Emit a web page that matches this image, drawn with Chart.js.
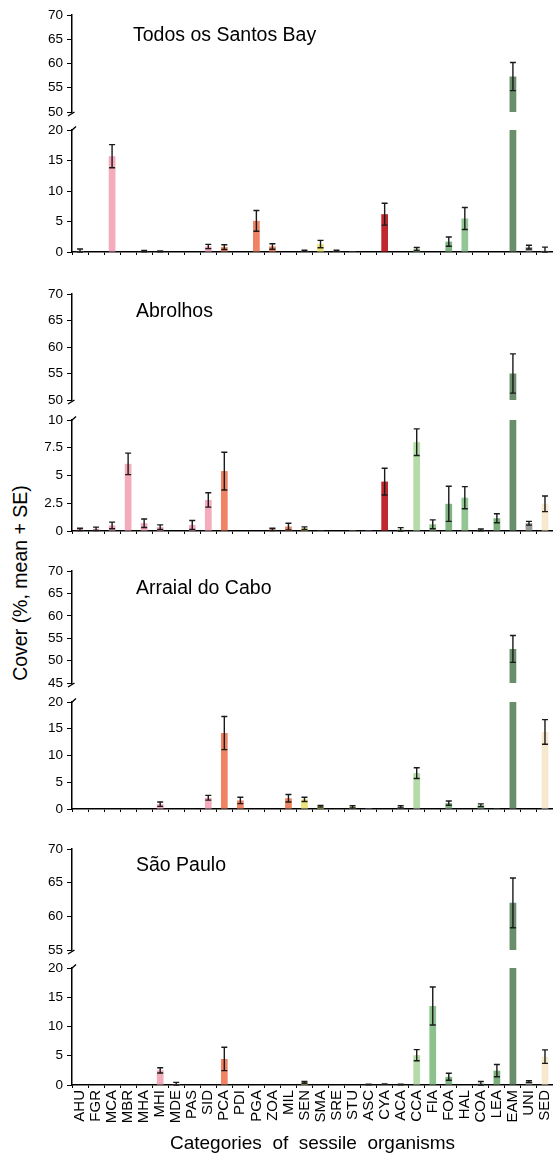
<!DOCTYPE html>
<html><head><meta charset="utf-8">
<script src="https://cdn.jsdelivr.net/npm/chart.js@4/dist/chart.umd.min.js"></script>
<style>
html,body{margin:0;padding:0;background:#fff;width:553px;height:1155px;overflow:hidden;position:relative;}
canvas{position:absolute;left:0;}
#ytitle{position:absolute;left:20px;top:583px;transform:translate(-50%,-50%) rotate(-90deg);font:19.5px 'Liberation Sans',Arial,sans-serif;white-space:nowrap;color:#000;}
</style></head><body>
<div id="ytitle">Cover (%, mean + SE)</div>
<script>
// ---------- data ----------
const categories = ['AHU','FGR','MCA','MBR','MHA','MHI','MDE','PAS','SID','PCA','PDI','PGA','ZOA','MIL','SEN','SMA','SRE','STU','ASC','CYA','ACA','CCA','FIA','FOA','HAL','COA','LEA','EAM','UNI','SED'];
const siteNames = ['Todos os Santos Bay','Abrolhos','Arraial do Cabo','São Paulo'];

const todosMean = [0.2,0,15.7,0,0.15,0.1,0,0,0.9,0.8,0,5.1,0.9,0,0.2,1.3,0.2,0.05,0,6.2,0,0.5,0,1.7,5.5,0,0,57.3,0.8,0.3];
const todosSE   = [0.3,0,1.9,0,0.1,0.08,0,0,0.35,0.4,0,1.7,0.45,0,0.1,0.6,0.1,0,0,1.8,0,0.25,0,0.75,1.8,0,0,2.9,0.3,0.5];

const abrolhosMean = [0.15,0.2,0.5,6.05,0.7,0.35,0,0.55,2.8,5.4,0,0,0.15,0.4,0.25,0.06,0,0.02,0.02,4.45,0.15,8.0,0.6,2.45,3.0,0.1,1.15,55.0,0.7,2.45];
const abrolhosSE   = [0.1,0.15,0.3,0.97,0.38,0.2,0,0.4,0.65,1.7,0,0,0.1,0.3,0.12,0,0,0,0,1.2,0.15,1.2,0.4,1.58,1.0,0.08,0.4,3.7,0.17,0.7];

const arraialMean = [0,0,0,0,0,0.9,0,0.1,2.1,14.2,1.6,0,0,2.0,1.8,0.5,0.1,0.4,0.15,0.1,0.4,6.7,0.1,1.1,0,0.7,0.05,52.6,0,14.4];
const arraialSE   = [0,0,0,0,0,0.4,0,0,0.45,3.1,0.6,0,0,0.7,0.4,0.15,0,0.2,0,0,0.2,1.0,0,0.4,0,0.25,0,3.0,0,2.3];

const saoPauloMean = [0,0,0,0,0,2.5,0.2,0,0,4.45,0,0,0,0,0.45,0,0,0,0.1,0.15,0.1,5.1,13.5,1.4,0,0.25,2.45,62.0,0.6,4.85];
const saoPauloSE   = [0,0,0,0,0,0.45,0.25,0,0,2.0,0,0,0,0,0.15,0,0,0,0.05,0.05,0.05,0.95,3.25,0.6,0,0.35,1.05,3.7,0.15,1.15];

// y-axis ranges [min, max, step] for the upper (broken) and lower parts of each panel
const upperTicks = [[50,70,5],[50,70,5],[45,70,5],[55,70,5]];
const lowerTicks = [[0,20,5],[0,10,2.5],[0,20,5],[0,20,5]];

// ---------- styles ----------
const PINK='#f4abbc', ORANGE='#ef8363', YELLOW='#ece57c', RED='#c0282e';
const barColors = [PINK,PINK,PINK,PINK,PINK,PINK,PINK,PINK,PINK,
  ORANGE,ORANGE,ORANGE,ORANGE,ORANGE,
  YELLOW,YELLOW,YELLOW,YELLOW,
  '#c8a8c8', RED, '#9fc99a', '#b4dba8', '#8dc18e', '#80b382', '#92c695', '#7caf7d', '#7aae7b', '#6a8e6c', '#9a9a9a', '#f6e9cd'];

const means = [todosMean, abrolhosMean, arraialMean, saoPauloMean];
const ses = [todosSE, abrolhosSE, arraialSE, saoPauloSE];

// page geometry (pixel positions of each panel's plot areas)
const geom = [
  {upTop:15,  upBot:112, loTop:130, loBot:252,  tx:133, ty:41},
  {upTop:294, upBot:400, loTop:420, loBot:531,  tx:136, ty:317},
  {upTop:571, upBot:683, loTop:702, loBot:809,  tx:136, ty:594},
  {upTop:849, upBot:950, loTop:968, loBot:1085, tx:136, ty:871}
];

Chart.defaults.font.family = "'Liberation Sans', Arial, sans-serif";
Chart.defaults.color = '#000';
const W = 553;

function addCanvas(top, height) {
  const c = document.createElement('canvas');
  c.width = W; c.height = height;
  c.style.top = top + 'px';
  c.style.width = W + 'px'; c.style.height = height + 'px';
  document.body.appendChild(c);
  return c;
}

function buildChart(p, part) {
  const G = geom[p];
  const mean = means[p], se = ses[p];
  const [mn, mx, st] = part === 'upper' ? upperTicks[p] : lowerTicks[p];
  const isLast = (p === 3 && part === 'lower');
  const padTop = 10;
  const xh = part === 'upper' ? 0 : (isLast ? 70 : 4);
  const padBot = part === 'upper' ? 10 : (isLast ? 0 : 6);
  const areaTop = part === 'upper' ? G.upTop : G.loTop;
  const areaBot = part === 'upper' ? G.upBot : G.loBot;
  const top = areaTop - padTop;
  const height = padTop + (areaBot - areaTop) + xh + padBot;
  const canvas = addCanvas(top, height);

  const data = mean.map(v => part === 'upper' ? (v >= mn ? v : null) : Math.min(v, mx));

  const errPlugin = {
    id: 'errbars',
    afterDatasetsDraw(chart) {
      const {ctx, scales: {x, y}} = chart;
      ctx.save();
      ctx.strokeStyle = '#1a1a1a';
      ctx.lineWidth = 1.4;
      mean.forEach((m, i) => {
        const s = se[i];
        if (!(s > 0)) return;
        if (part === 'upper' && m < mn) return;
        if (part === 'lower' && m > mx) return;
        const cx = x.getPixelForValue(i);
        const yt = y.getPixelForValue(m + s);
        const yb = y.getPixelForValue(Math.max(m - s, 0));
        const hw = 3;
        ctx.beginPath();
        ctx.moveTo(cx, yt); ctx.lineTo(cx, yb);
        ctx.moveTo(cx - hw, yt); ctx.lineTo(cx + hw, yt);
        ctx.moveTo(cx - hw, yb); ctx.lineTo(cx + hw, yb);
        ctx.stroke();
      });
      ctx.restore();
    }
  };

  const decoPlugin = {
    id: 'deco',
    afterDraw(chart) {
      const {ctx, chartArea: a} = chart;
      ctx.save();
      ctx.strokeStyle = '#000';
      ctx.lineWidth = 1.4;
      ctx.beginPath();
      if (part === 'upper') {
        ctx.moveTo(a.left - 4, a.bottom + 4);
        ctx.lineTo(a.left + 2.5, a.bottom);
      } else {
        ctx.moveTo(a.left - 1, a.top + 1);
        ctx.lineTo(a.left + 4, a.top - 3.5);
      }
      ctx.stroke();
      if (part === 'upper') {
        ctx.fillStyle = '#000';
        ctx.font = "19.5px 'Liberation Sans', Arial, sans-serif";
        ctx.textBaseline = 'alphabetic';
        ctx.textAlign = 'left';
        ctx.fillText(siteNames[p], G.tx, G.ty - top);
      }
      ctx.restore();
    }
  };

  return new Chart(canvas, {
    type: 'bar',
    data: {
      labels: categories,
      datasets: [{
        data,
        backgroundColor: barColors,
        borderWidth: 0,
        barPercentage: 0.42,
        categoryPercentage: 1.0
      }]
    },
    options: {
      responsive: false,
      animation: false,
      devicePixelRatio: 1,
      layout: {padding: {top: padTop, bottom: padBot, left: 0, right: 0}},
      plugins: {legend: {display: false}, tooltip: {enabled: false}, title: {display: false}},
      scales: {
        x: {
          display: part !== 'upper',
          grid: {display: true, drawOnChartArea: false, drawTicks: true, tickLength: 3, color: '#000', lineWidth: 1, offset: true},
          border: {display: true, color: '#000', width: 1.5},
          ticks: {display: isLast, autoSkip: false, maxRotation: 90, minRotation: 90, font: {size: 15}, color: '#000', padding: 2},
          title: {display: isLast, text: 'Categories  of  sessile  organisms', font: {size: 19}, color: '#000', padding: {top: 0, bottom: 0}},
          afterFit: s => { s.height = xh; s.paddingLeft = 0; s.paddingRight = 0; }
        },
        y: {
          min: mn, max: mx,
          ticks: {stepSize: st, font: {size: 13.5}, color: '#000', padding: 4},
          grid: {display: true, drawOnChartArea: false, drawTicks: true, tickLength: 5, color: '#000', lineWidth: 1},
          border: {display: true, color: '#000', width: 1.5},
          afterFit: s => { s.width = 72; s.paddingTop = 0; s.paddingBottom = 0; }
        }
      }
    },
    plugins: [errPlugin, decoPlugin]
  });
}

for (let p = 0; p < 4; p++) {
  buildChart(p, 'upper');
  buildChart(p, 'lower');
}
</script>
</body></html>
